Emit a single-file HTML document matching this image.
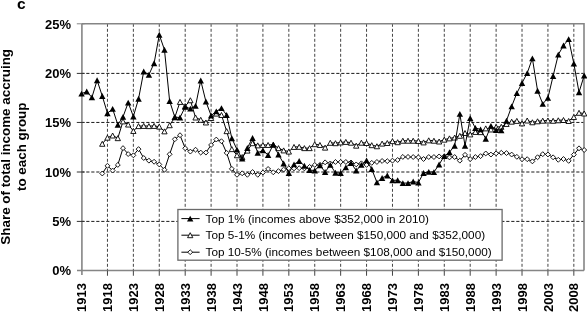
<!DOCTYPE html><html><head><meta charset="utf-8"><style>html,body{margin:0;padding:0;background:#fff;}body{width:587px;height:313px;overflow:hidden;}svg{display:block;font-family:"Liberation Sans",sans-serif;will-change:transform;}</style></head><body>
<svg width="587" height="313" viewBox="0 0 587 313">
<rect x="0" y="0" width="587" height="313" fill="#fff"/>
<text x="17.1" y="9.0" font-size="15.5" font-weight="bold" fill="#000">c</text>
<line x1="81.25" y1="221.4" x2="584" y2="221.4" stroke="#1a1a1a" stroke-width="1" stroke-dasharray="3.2,1.8"/>
<line x1="81.25" y1="172" x2="584" y2="172" stroke="#1a1a1a" stroke-width="1" stroke-dasharray="3.2,1.8"/>
<line x1="81.25" y1="122.45" x2="584" y2="122.45" stroke="#1a1a1a" stroke-width="1" stroke-dasharray="3.2,1.8"/>
<line x1="81.25" y1="73.4" x2="584" y2="73.4" stroke="#1a1a1a" stroke-width="1" stroke-dasharray="3.2,1.8"/>
<line x1="107.46" y1="23.8" x2="107.46" y2="270.55" stroke="#444" stroke-width="1" stroke-dasharray="3,2"/>
<line x1="133.37" y1="23.8" x2="133.37" y2="270.55" stroke="#444" stroke-width="1" stroke-dasharray="3,2"/>
<line x1="159.28" y1="23.8" x2="159.28" y2="270.55" stroke="#444" stroke-width="1" stroke-dasharray="3,2"/>
<line x1="185.19" y1="23.8" x2="185.19" y2="270.55" stroke="#444" stroke-width="1" stroke-dasharray="3,2"/>
<line x1="211.1" y1="23.8" x2="211.1" y2="270.55" stroke="#444" stroke-width="1" stroke-dasharray="3,2"/>
<line x1="237.01" y1="23.8" x2="237.01" y2="270.55" stroke="#444" stroke-width="1" stroke-dasharray="3,2"/>
<line x1="262.92" y1="23.8" x2="262.92" y2="270.55" stroke="#444" stroke-width="1" stroke-dasharray="3,2"/>
<line x1="288.83" y1="23.8" x2="288.83" y2="270.55" stroke="#444" stroke-width="1" stroke-dasharray="3,2"/>
<line x1="314.74" y1="23.8" x2="314.74" y2="270.55" stroke="#444" stroke-width="1" stroke-dasharray="3,2"/>
<line x1="340.65" y1="23.8" x2="340.65" y2="270.55" stroke="#444" stroke-width="1" stroke-dasharray="3,2"/>
<line x1="366.56" y1="23.8" x2="366.56" y2="270.55" stroke="#444" stroke-width="1" stroke-dasharray="3,2"/>
<line x1="392.47" y1="23.8" x2="392.47" y2="270.55" stroke="#444" stroke-width="1" stroke-dasharray="3,2"/>
<line x1="418.38" y1="23.8" x2="418.38" y2="270.55" stroke="#444" stroke-width="1" stroke-dasharray="3,2"/>
<line x1="444.29" y1="23.8" x2="444.29" y2="270.55" stroke="#444" stroke-width="1" stroke-dasharray="3,2"/>
<line x1="470.2" y1="23.8" x2="470.2" y2="270.55" stroke="#444" stroke-width="1" stroke-dasharray="3,2"/>
<line x1="496.11" y1="23.8" x2="496.11" y2="270.55" stroke="#444" stroke-width="1" stroke-dasharray="3,2"/>
<line x1="522.02" y1="23.8" x2="522.02" y2="270.55" stroke="#444" stroke-width="1" stroke-dasharray="3,2"/>
<line x1="547.93" y1="23.8" x2="547.93" y2="270.55" stroke="#444" stroke-width="1" stroke-dasharray="3,2"/>
<line x1="573.84" y1="23.8" x2="573.84" y2="270.55" stroke="#444" stroke-width="1" stroke-dasharray="3,2"/>
<polyline points="81.9,23.8 584,23.8 584,270.55" fill="none" stroke="#858585" stroke-width="1.6"/>
<line x1="81.9" y1="23.8" x2="81.9" y2="275.05" stroke="#858585" stroke-width="1.6"/>
<line x1="77" y1="270.55" x2="584" y2="270.55" stroke="#858585" stroke-width="1.6"/>
<line x1="76.8" y1="221.4" x2="84.5" y2="221.4" stroke="#333" stroke-width="1"/>
<line x1="76.8" y1="172" x2="84.5" y2="172" stroke="#333" stroke-width="1"/>
<line x1="76.8" y1="122.45" x2="84.5" y2="122.45" stroke="#333" stroke-width="1"/>
<line x1="76.8" y1="73.4" x2="84.5" y2="73.4" stroke="#333" stroke-width="1"/>
<line x1="76.8" y1="23.8" x2="84.5" y2="23.8" stroke="#858585" stroke-width="1"/>
<line x1="107.46" y1="270.55" x2="107.46" y2="275.75" stroke="#444" stroke-width="1"/>
<line x1="133.37" y1="270.55" x2="133.37" y2="275.75" stroke="#444" stroke-width="1"/>
<line x1="159.28" y1="270.55" x2="159.28" y2="275.75" stroke="#444" stroke-width="1"/>
<line x1="185.19" y1="270.55" x2="185.19" y2="275.75" stroke="#444" stroke-width="1"/>
<line x1="211.1" y1="270.55" x2="211.1" y2="275.75" stroke="#444" stroke-width="1"/>
<line x1="237.01" y1="270.55" x2="237.01" y2="275.75" stroke="#444" stroke-width="1"/>
<line x1="262.92" y1="270.55" x2="262.92" y2="275.75" stroke="#444" stroke-width="1"/>
<line x1="288.83" y1="270.55" x2="288.83" y2="275.75" stroke="#444" stroke-width="1"/>
<line x1="314.74" y1="270.55" x2="314.74" y2="275.75" stroke="#444" stroke-width="1"/>
<line x1="340.65" y1="270.55" x2="340.65" y2="275.75" stroke="#444" stroke-width="1"/>
<line x1="366.56" y1="270.55" x2="366.56" y2="275.75" stroke="#444" stroke-width="1"/>
<line x1="392.47" y1="270.55" x2="392.47" y2="275.75" stroke="#444" stroke-width="1"/>
<line x1="418.38" y1="270.55" x2="418.38" y2="275.75" stroke="#444" stroke-width="1"/>
<line x1="444.29" y1="270.55" x2="444.29" y2="275.75" stroke="#444" stroke-width="1"/>
<line x1="470.2" y1="270.55" x2="470.2" y2="275.75" stroke="#444" stroke-width="1"/>
<line x1="496.11" y1="270.55" x2="496.11" y2="275.75" stroke="#444" stroke-width="1"/>
<line x1="522.02" y1="270.55" x2="522.02" y2="275.75" stroke="#444" stroke-width="1"/>
<line x1="547.93" y1="270.55" x2="547.93" y2="275.75" stroke="#444" stroke-width="1"/>
<line x1="573.84" y1="270.55" x2="573.84" y2="275.75" stroke="#444" stroke-width="1"/>
<text x="71" y="275.35" font-size="13" font-weight="bold" text-anchor="end" fill="#000">0%</text>
<text x="71" y="225.99" font-size="13" font-weight="bold" text-anchor="end" fill="#000">5%</text>
<text x="71" y="176.63" font-size="13" font-weight="bold" text-anchor="end" fill="#000">10%</text>
<text x="71" y="127.27" font-size="13" font-weight="bold" text-anchor="end" fill="#000">15%</text>
<text x="71" y="77.91" font-size="13" font-weight="bold" text-anchor="end" fill="#000">20%</text>
<text x="71" y="28.55" font-size="13" font-weight="bold" text-anchor="end" fill="#000">25%</text>
<text transform="translate(86.15,283) rotate(-90)" font-size="13" font-weight="bold" text-anchor="end" fill="#000">1913</text>
<text transform="translate(112.06,283) rotate(-90)" font-size="13" font-weight="bold" text-anchor="end" fill="#000">1918</text>
<text transform="translate(137.97,283) rotate(-90)" font-size="13" font-weight="bold" text-anchor="end" fill="#000">1923</text>
<text transform="translate(163.88,283) rotate(-90)" font-size="13" font-weight="bold" text-anchor="end" fill="#000">1928</text>
<text transform="translate(189.79,283) rotate(-90)" font-size="13" font-weight="bold" text-anchor="end" fill="#000">1933</text>
<text transform="translate(215.7,283) rotate(-90)" font-size="13" font-weight="bold" text-anchor="end" fill="#000">1938</text>
<text transform="translate(241.61,283) rotate(-90)" font-size="13" font-weight="bold" text-anchor="end" fill="#000">1943</text>
<text transform="translate(267.52,283) rotate(-90)" font-size="13" font-weight="bold" text-anchor="end" fill="#000">1948</text>
<text transform="translate(293.43,283) rotate(-90)" font-size="13" font-weight="bold" text-anchor="end" fill="#000">1953</text>
<text transform="translate(319.34,283) rotate(-90)" font-size="13" font-weight="bold" text-anchor="end" fill="#000">1958</text>
<text transform="translate(345.25,283) rotate(-90)" font-size="13" font-weight="bold" text-anchor="end" fill="#000">1963</text>
<text transform="translate(371.16,283) rotate(-90)" font-size="13" font-weight="bold" text-anchor="end" fill="#000">1968</text>
<text transform="translate(397.07,283) rotate(-90)" font-size="13" font-weight="bold" text-anchor="end" fill="#000">1973</text>
<text transform="translate(422.98,283) rotate(-90)" font-size="13" font-weight="bold" text-anchor="end" fill="#000">1978</text>
<text transform="translate(448.89,283) rotate(-90)" font-size="13" font-weight="bold" text-anchor="end" fill="#000">1983</text>
<text transform="translate(474.8,283) rotate(-90)" font-size="13" font-weight="bold" text-anchor="end" fill="#000">1988</text>
<text transform="translate(500.71,283) rotate(-90)" font-size="13" font-weight="bold" text-anchor="end" fill="#000">1993</text>
<text transform="translate(526.62,283) rotate(-90)" font-size="13" font-weight="bold" text-anchor="end" fill="#000">1998</text>
<text transform="translate(552.53,283) rotate(-90)" font-size="13" font-weight="bold" text-anchor="end" fill="#000">2003</text>
<text transform="translate(578.44,283) rotate(-90)" font-size="13" font-weight="bold" text-anchor="end" fill="#000">2008</text>
<text transform="translate(10.3,146.8) rotate(-90)" font-size="13.4" font-weight="bold" text-anchor="middle" fill="#000">Share of total income accruing</text>
<text transform="translate(26.0,146.8) rotate(-90)" font-size="13.4" font-weight="bold" text-anchor="middle" fill="#000">to each group</text>
<polyline points="102.28,173.51 107.46,165.81 112.64,170.55 117.82,164.92 123.01,148.14 128.19,154.06 133.37,155.34 138.55,149.12 143.73,158.01 148.92,160.67 154.1,161.76 159.28,164.43 164.46,169.76 169.64,154.26 174.83,139.25 180.01,135.2 185.19,148.24 190.37,151.59 195.55,149.72 200.74,152.58 205.92,152.58 211.1,144.98 216.28,139.55 221.46,141.23 226.65,152.88 231.83,168.87 237.01,174.79 242.19,173.31 247.37,174.79 252.56,172.03 257.74,174.79 262.92,172.52 268.1,168.97 273.28,172.32 278.47,171.14 283.65,169.56 288.83,168.28 294.01,168.37 299.19,168.18 304.38,168.37 309.56,166.89 314.74,164.92 319.92,164.92 325.1,162.35 330.29,163.44 335.47,161.96 340.65,161.96 345.83,161.96 351.01,162.45 356.2,164.43 361.38,163.34 366.56,164.92 371.74,162.85 376.92,161.96 382.11,160.97 387.29,161.17 392.47,160.67 397.65,159.98 402.83,156.92 408.02,156.92 413.2,157.02 418.38,157.32 423.56,159 428.74,157.02 433.93,157.02 439.11,156.43 444.29,156.43 449.47,157.42 454.65,157.02 459.84,160.67 465.02,154.85 470.2,159.1 475.38,157.02 480.56,156.13 485.75,153.47 490.93,154.55 496.11,153.37 501.29,152.78 506.47,153.07 511.66,154.55 516.84,156.82 522.02,159.19 527.2,159.19 532.38,161.37 537.57,157.22 542.75,154.16 547.93,154.46 553.11,157.32 558.29,159.79 563.48,159 568.66,160.87 573.84,154.65 579.02,148.33 584.2,150.01" fill="none" stroke="#000" stroke-width="1" stroke-linejoin="round"/>
<path d="M102.28,171.06L104.73,173.51L102.28,175.96L99.83,173.51Z" fill="#fff" stroke="#000" stroke-width="0.9"/>
<path d="M107.46,163.36L109.91,165.81L107.46,168.26L105.01,165.81Z" fill="#fff" stroke="#000" stroke-width="0.9"/>
<path d="M112.64,168.1L115.09,170.55L112.64,173L110.19,170.55Z" fill="#fff" stroke="#000" stroke-width="0.9"/>
<path d="M117.82,162.47L120.27,164.92L117.82,167.37L115.37,164.92Z" fill="#fff" stroke="#000" stroke-width="0.9"/>
<path d="M123.01,145.69L125.46,148.14L123.01,150.59L120.56,148.14Z" fill="#fff" stroke="#000" stroke-width="0.9"/>
<path d="M128.19,151.61L130.64,154.06L128.19,156.51L125.74,154.06Z" fill="#fff" stroke="#000" stroke-width="0.9"/>
<path d="M133.37,152.89L135.82,155.34L133.37,157.79L130.92,155.34Z" fill="#fff" stroke="#000" stroke-width="0.9"/>
<path d="M138.55,146.67L141,149.12L138.55,151.57L136.1,149.12Z" fill="#fff" stroke="#000" stroke-width="0.9"/>
<path d="M143.73,155.56L146.18,158.01L143.73,160.46L141.28,158.01Z" fill="#fff" stroke="#000" stroke-width="0.9"/>
<path d="M148.92,158.22L151.37,160.67L148.92,163.12L146.47,160.67Z" fill="#fff" stroke="#000" stroke-width="0.9"/>
<path d="M154.1,159.31L156.55,161.76L154.1,164.21L151.65,161.76Z" fill="#fff" stroke="#000" stroke-width="0.9"/>
<path d="M159.28,161.98L161.73,164.43L159.28,166.88L156.83,164.43Z" fill="#fff" stroke="#000" stroke-width="0.9"/>
<path d="M164.46,167.31L166.91,169.76L164.46,172.21L162.01,169.76Z" fill="#fff" stroke="#000" stroke-width="0.9"/>
<path d="M169.64,151.81L172.09,154.26L169.64,156.71L167.19,154.26Z" fill="#fff" stroke="#000" stroke-width="0.9"/>
<path d="M174.83,136.8L177.28,139.25L174.83,141.7L172.38,139.25Z" fill="#fff" stroke="#000" stroke-width="0.9"/>
<path d="M180.01,132.75L182.46,135.2L180.01,137.65L177.56,135.2Z" fill="#fff" stroke="#000" stroke-width="0.9"/>
<path d="M185.19,145.79L187.64,148.24L185.19,150.69L182.74,148.24Z" fill="#fff" stroke="#000" stroke-width="0.9"/>
<path d="M190.37,149.14L192.82,151.59L190.37,154.04L187.92,151.59Z" fill="#fff" stroke="#000" stroke-width="0.9"/>
<path d="M195.55,147.27L198,149.72L195.55,152.17L193.1,149.72Z" fill="#fff" stroke="#000" stroke-width="0.9"/>
<path d="M200.74,150.13L203.19,152.58L200.74,155.03L198.29,152.58Z" fill="#fff" stroke="#000" stroke-width="0.9"/>
<path d="M205.92,150.13L208.37,152.58L205.92,155.03L203.47,152.58Z" fill="#fff" stroke="#000" stroke-width="0.9"/>
<path d="M211.1,142.53L213.55,144.98L211.1,147.43L208.65,144.98Z" fill="#fff" stroke="#000" stroke-width="0.9"/>
<path d="M216.28,137.1L218.73,139.55L216.28,142L213.83,139.55Z" fill="#fff" stroke="#000" stroke-width="0.9"/>
<path d="M221.46,138.78L223.91,141.23L221.46,143.68L219.01,141.23Z" fill="#fff" stroke="#000" stroke-width="0.9"/>
<path d="M226.65,150.43L229.1,152.88L226.65,155.33L224.2,152.88Z" fill="#fff" stroke="#000" stroke-width="0.9"/>
<path d="M231.83,166.42L234.28,168.87L231.83,171.32L229.38,168.87Z" fill="#fff" stroke="#000" stroke-width="0.9"/>
<path d="M237.01,172.34L239.46,174.79L237.01,177.24L234.56,174.79Z" fill="#fff" stroke="#000" stroke-width="0.9"/>
<path d="M242.19,170.86L244.64,173.31L242.19,175.76L239.74,173.31Z" fill="#fff" stroke="#000" stroke-width="0.9"/>
<path d="M247.37,172.34L249.82,174.79L247.37,177.24L244.92,174.79Z" fill="#fff" stroke="#000" stroke-width="0.9"/>
<path d="M252.56,169.58L255.01,172.03L252.56,174.48L250.11,172.03Z" fill="#fff" stroke="#000" stroke-width="0.9"/>
<path d="M257.74,172.34L260.19,174.79L257.74,177.24L255.29,174.79Z" fill="#fff" stroke="#000" stroke-width="0.9"/>
<path d="M262.92,170.07L265.37,172.52L262.92,174.97L260.47,172.52Z" fill="#fff" stroke="#000" stroke-width="0.9"/>
<path d="M268.1,166.52L270.55,168.97L268.1,171.42L265.65,168.97Z" fill="#fff" stroke="#000" stroke-width="0.9"/>
<path d="M273.28,169.87L275.73,172.32L273.28,174.77L270.83,172.32Z" fill="#fff" stroke="#000" stroke-width="0.9"/>
<path d="M278.47,168.69L280.92,171.14L278.47,173.59L276.02,171.14Z" fill="#fff" stroke="#000" stroke-width="0.9"/>
<path d="M283.65,167.11L286.1,169.56L283.65,172.01L281.2,169.56Z" fill="#fff" stroke="#000" stroke-width="0.9"/>
<path d="M288.83,165.83L291.28,168.28L288.83,170.73L286.38,168.28Z" fill="#fff" stroke="#000" stroke-width="0.9"/>
<path d="M294.01,165.92L296.46,168.37L294.01,170.82L291.56,168.37Z" fill="#fff" stroke="#000" stroke-width="0.9"/>
<path d="M299.19,165.73L301.64,168.18L299.19,170.63L296.74,168.18Z" fill="#fff" stroke="#000" stroke-width="0.9"/>
<path d="M304.38,165.92L306.83,168.37L304.38,170.82L301.93,168.37Z" fill="#fff" stroke="#000" stroke-width="0.9"/>
<path d="M309.56,164.44L312.01,166.89L309.56,169.34L307.11,166.89Z" fill="#fff" stroke="#000" stroke-width="0.9"/>
<path d="M314.74,162.47L317.19,164.92L314.74,167.37L312.29,164.92Z" fill="#fff" stroke="#000" stroke-width="0.9"/>
<path d="M319.92,162.47L322.37,164.92L319.92,167.37L317.47,164.92Z" fill="#fff" stroke="#000" stroke-width="0.9"/>
<path d="M325.1,159.9L327.55,162.35L325.1,164.8L322.65,162.35Z" fill="#fff" stroke="#000" stroke-width="0.9"/>
<path d="M330.29,160.99L332.74,163.44L330.29,165.89L327.84,163.44Z" fill="#fff" stroke="#000" stroke-width="0.9"/>
<path d="M335.47,159.51L337.92,161.96L335.47,164.41L333.02,161.96Z" fill="#fff" stroke="#000" stroke-width="0.9"/>
<path d="M340.65,159.51L343.1,161.96L340.65,164.41L338.2,161.96Z" fill="#fff" stroke="#000" stroke-width="0.9"/>
<path d="M345.83,159.51L348.28,161.96L345.83,164.41L343.38,161.96Z" fill="#fff" stroke="#000" stroke-width="0.9"/>
<path d="M351.01,160L353.46,162.45L351.01,164.9L348.56,162.45Z" fill="#fff" stroke="#000" stroke-width="0.9"/>
<path d="M356.2,161.98L358.65,164.43L356.2,166.88L353.75,164.43Z" fill="#fff" stroke="#000" stroke-width="0.9"/>
<path d="M361.38,160.89L363.83,163.34L361.38,165.79L358.93,163.34Z" fill="#fff" stroke="#000" stroke-width="0.9"/>
<path d="M366.56,162.47L369.01,164.92L366.56,167.37L364.11,164.92Z" fill="#fff" stroke="#000" stroke-width="0.9"/>
<path d="M371.74,160.4L374.19,162.85L371.74,165.3L369.29,162.85Z" fill="#fff" stroke="#000" stroke-width="0.9"/>
<path d="M376.92,159.51L379.37,161.96L376.92,164.41L374.47,161.96Z" fill="#fff" stroke="#000" stroke-width="0.9"/>
<path d="M382.11,158.52L384.56,160.97L382.11,163.42L379.66,160.97Z" fill="#fff" stroke="#000" stroke-width="0.9"/>
<path d="M387.29,158.72L389.74,161.17L387.29,163.62L384.84,161.17Z" fill="#fff" stroke="#000" stroke-width="0.9"/>
<path d="M392.47,158.22L394.92,160.67L392.47,163.12L390.02,160.67Z" fill="#fff" stroke="#000" stroke-width="0.9"/>
<path d="M397.65,157.53L400.1,159.98L397.65,162.43L395.2,159.98Z" fill="#fff" stroke="#000" stroke-width="0.9"/>
<path d="M402.83,154.47L405.28,156.92L402.83,159.37L400.38,156.92Z" fill="#fff" stroke="#000" stroke-width="0.9"/>
<path d="M408.02,154.47L410.47,156.92L408.02,159.37L405.57,156.92Z" fill="#fff" stroke="#000" stroke-width="0.9"/>
<path d="M413.2,154.57L415.65,157.02L413.2,159.47L410.75,157.02Z" fill="#fff" stroke="#000" stroke-width="0.9"/>
<path d="M418.38,154.87L420.83,157.32L418.38,159.77L415.93,157.32Z" fill="#fff" stroke="#000" stroke-width="0.9"/>
<path d="M423.56,156.55L426.01,159L423.56,161.45L421.11,159Z" fill="#fff" stroke="#000" stroke-width="0.9"/>
<path d="M428.74,154.57L431.19,157.02L428.74,159.47L426.29,157.02Z" fill="#fff" stroke="#000" stroke-width="0.9"/>
<path d="M433.93,154.57L436.38,157.02L433.93,159.47L431.48,157.02Z" fill="#fff" stroke="#000" stroke-width="0.9"/>
<path d="M439.11,153.98L441.56,156.43L439.11,158.88L436.66,156.43Z" fill="#fff" stroke="#000" stroke-width="0.9"/>
<path d="M444.29,153.98L446.74,156.43L444.29,158.88L441.84,156.43Z" fill="#fff" stroke="#000" stroke-width="0.9"/>
<path d="M449.47,154.97L451.92,157.42L449.47,159.87L447.02,157.42Z" fill="#fff" stroke="#000" stroke-width="0.9"/>
<path d="M454.65,154.57L457.1,157.02L454.65,159.47L452.2,157.02Z" fill="#fff" stroke="#000" stroke-width="0.9"/>
<path d="M459.84,158.22L462.29,160.67L459.84,163.12L457.39,160.67Z" fill="#fff" stroke="#000" stroke-width="0.9"/>
<path d="M465.02,152.4L467.47,154.85L465.02,157.3L462.57,154.85Z" fill="#fff" stroke="#000" stroke-width="0.9"/>
<path d="M470.2,156.65L472.65,159.1L470.2,161.55L467.75,159.1Z" fill="#fff" stroke="#000" stroke-width="0.9"/>
<path d="M475.38,154.57L477.83,157.02L475.38,159.47L472.93,157.02Z" fill="#fff" stroke="#000" stroke-width="0.9"/>
<path d="M480.56,153.68L483.01,156.13L480.56,158.58L478.11,156.13Z" fill="#fff" stroke="#000" stroke-width="0.9"/>
<path d="M485.75,151.02L488.2,153.47L485.75,155.92L483.3,153.47Z" fill="#fff" stroke="#000" stroke-width="0.9"/>
<path d="M490.93,152.1L493.38,154.55L490.93,157L488.48,154.55Z" fill="#fff" stroke="#000" stroke-width="0.9"/>
<path d="M496.11,150.92L498.56,153.37L496.11,155.82L493.66,153.37Z" fill="#fff" stroke="#000" stroke-width="0.9"/>
<path d="M501.29,150.33L503.74,152.78L501.29,155.23L498.84,152.78Z" fill="#fff" stroke="#000" stroke-width="0.9"/>
<path d="M506.47,150.62L508.92,153.07L506.47,155.52L504.02,153.07Z" fill="#fff" stroke="#000" stroke-width="0.9"/>
<path d="M511.66,152.1L514.11,154.55L511.66,157L509.21,154.55Z" fill="#fff" stroke="#000" stroke-width="0.9"/>
<path d="M516.84,154.37L519.29,156.82L516.84,159.27L514.39,156.82Z" fill="#fff" stroke="#000" stroke-width="0.9"/>
<path d="M522.02,156.74L524.47,159.19L522.02,161.64L519.57,159.19Z" fill="#fff" stroke="#000" stroke-width="0.9"/>
<path d="M527.2,156.74L529.65,159.19L527.2,161.64L524.75,159.19Z" fill="#fff" stroke="#000" stroke-width="0.9"/>
<path d="M532.38,158.92L534.83,161.37L532.38,163.82L529.93,161.37Z" fill="#fff" stroke="#000" stroke-width="0.9"/>
<path d="M537.57,154.77L540.02,157.22L537.57,159.67L535.12,157.22Z" fill="#fff" stroke="#000" stroke-width="0.9"/>
<path d="M542.75,151.71L545.2,154.16L542.75,156.61L540.3,154.16Z" fill="#fff" stroke="#000" stroke-width="0.9"/>
<path d="M547.93,152.01L550.38,154.46L547.93,156.91L545.48,154.46Z" fill="#fff" stroke="#000" stroke-width="0.9"/>
<path d="M553.11,154.87L555.56,157.32L553.11,159.77L550.66,157.32Z" fill="#fff" stroke="#000" stroke-width="0.9"/>
<path d="M558.29,157.34L560.74,159.79L558.29,162.24L555.84,159.79Z" fill="#fff" stroke="#000" stroke-width="0.9"/>
<path d="M563.48,156.55L565.93,159L563.48,161.45L561.03,159Z" fill="#fff" stroke="#000" stroke-width="0.9"/>
<path d="M568.66,158.42L571.11,160.87L568.66,163.32L566.21,160.87Z" fill="#fff" stroke="#000" stroke-width="0.9"/>
<path d="M573.84,152.2L576.29,154.65L573.84,157.1L571.39,154.65Z" fill="#fff" stroke="#000" stroke-width="0.9"/>
<path d="M579.02,145.88L581.47,148.33L579.02,150.78L576.57,148.33Z" fill="#fff" stroke="#000" stroke-width="0.9"/>
<path d="M584.2,147.56L586.65,150.01L584.2,152.46L581.75,150.01Z" fill="#fff" stroke="#000" stroke-width="0.9"/>
<polyline points="102.28,143.79 107.46,137.67 112.64,135.5 117.82,138.17 123.01,121.38 128.19,124.54 133.37,130.96 138.55,126.12 143.73,125.93 148.92,126.12 154.1,125.93 159.28,126.62 164.46,131.35 169.64,125.23 174.83,117.34 180.01,101.94 185.19,106.18 190.37,100.26 195.55,117.53 200.74,119.8 205.92,122.47 211.1,118.03 216.28,113.59 221.46,114.97 226.65,131.16 231.83,149.12 237.01,155.25 242.19,157.02 247.37,150.61 252.56,143.2 257.74,145.37 262.92,144.98 268.1,144.98 273.28,144.68 278.47,148.14 283.65,150.41 288.83,151.59 294.01,146.95 299.19,146.85 304.38,148.14 309.56,148.14 314.74,144.19 319.92,144.98 325.1,147.64 330.29,142.81 335.47,143.2 340.65,142.41 345.83,141.92 351.01,142.71 356.2,145.67 361.38,142.71 366.56,143 371.74,145.18 376.92,146.26 382.11,143.6 387.29,143 392.47,141.13 397.65,142.21 402.83,140.73 408.02,140.73 413.2,140.73 418.38,141.03 423.56,142.41 428.74,140.34 433.93,140.73 439.11,141.52 444.29,139.65 449.47,138.36 454.65,137.57 459.84,135.8 465.02,133.03 470.2,134.42 475.38,131.95 480.56,132.14 485.75,128.39 490.93,129.48 496.11,126.91 501.29,126.81 506.47,123.95 511.66,121.68 516.84,120.89 522.02,123.36 527.2,120.5 532.38,122.27 537.57,121.29 542.75,120.69 547.93,120.5 553.11,120.79 558.29,120.3 563.48,120 568.66,120.99 573.84,117.04 579.02,112.8 584.2,113.49" fill="none" stroke="#000" stroke-width="1" stroke-linejoin="round"/>
<path d="M102.28,141.29L104.93,146.29L99.63,146.29Z" fill="#fff" stroke="#000" stroke-width="0.9"/>
<path d="M107.46,135.17L110.11,140.17L104.81,140.17Z" fill="#fff" stroke="#000" stroke-width="0.9"/>
<path d="M112.64,133L115.29,138L109.99,138Z" fill="#fff" stroke="#000" stroke-width="0.9"/>
<path d="M117.82,135.67L120.47,140.67L115.17,140.67Z" fill="#fff" stroke="#000" stroke-width="0.9"/>
<path d="M123.01,118.88L125.66,123.88L120.36,123.88Z" fill="#fff" stroke="#000" stroke-width="0.9"/>
<path d="M128.19,122.04L130.84,127.04L125.54,127.04Z" fill="#fff" stroke="#000" stroke-width="0.9"/>
<path d="M133.37,128.46L136.02,133.46L130.72,133.46Z" fill="#fff" stroke="#000" stroke-width="0.9"/>
<path d="M138.55,123.62L141.2,128.62L135.9,128.62Z" fill="#fff" stroke="#000" stroke-width="0.9"/>
<path d="M143.73,123.43L146.38,128.43L141.08,128.43Z" fill="#fff" stroke="#000" stroke-width="0.9"/>
<path d="M148.92,123.62L151.57,128.62L146.27,128.62Z" fill="#fff" stroke="#000" stroke-width="0.9"/>
<path d="M154.1,123.43L156.75,128.43L151.45,128.43Z" fill="#fff" stroke="#000" stroke-width="0.9"/>
<path d="M159.28,124.12L161.93,129.12L156.63,129.12Z" fill="#fff" stroke="#000" stroke-width="0.9"/>
<path d="M164.46,128.85L167.11,133.85L161.81,133.85Z" fill="#fff" stroke="#000" stroke-width="0.9"/>
<path d="M169.64,122.73L172.29,127.73L166.99,127.73Z" fill="#fff" stroke="#000" stroke-width="0.9"/>
<path d="M174.83,114.84L177.48,119.84L172.18,119.84Z" fill="#fff" stroke="#000" stroke-width="0.9"/>
<path d="M180.01,99.44L182.66,104.44L177.36,104.44Z" fill="#fff" stroke="#000" stroke-width="0.9"/>
<path d="M185.19,103.68L187.84,108.68L182.54,108.68Z" fill="#fff" stroke="#000" stroke-width="0.9"/>
<path d="M190.37,97.76L193.02,102.76L187.72,102.76Z" fill="#fff" stroke="#000" stroke-width="0.9"/>
<path d="M195.55,115.03L198.2,120.03L192.9,120.03Z" fill="#fff" stroke="#000" stroke-width="0.9"/>
<path d="M200.74,117.3L203.39,122.3L198.09,122.3Z" fill="#fff" stroke="#000" stroke-width="0.9"/>
<path d="M205.92,119.97L208.57,124.97L203.27,124.97Z" fill="#fff" stroke="#000" stroke-width="0.9"/>
<path d="M211.1,115.53L213.75,120.53L208.45,120.53Z" fill="#fff" stroke="#000" stroke-width="0.9"/>
<path d="M216.28,111.09L218.93,116.09L213.63,116.09Z" fill="#fff" stroke="#000" stroke-width="0.9"/>
<path d="M221.46,112.47L224.11,117.47L218.81,117.47Z" fill="#fff" stroke="#000" stroke-width="0.9"/>
<path d="M226.65,128.66L229.3,133.66L224,133.66Z" fill="#fff" stroke="#000" stroke-width="0.9"/>
<path d="M231.83,146.62L234.48,151.62L229.18,151.62Z" fill="#fff" stroke="#000" stroke-width="0.9"/>
<path d="M237.01,152.75L239.66,157.75L234.36,157.75Z" fill="#fff" stroke="#000" stroke-width="0.9"/>
<path d="M242.19,154.52L244.84,159.52L239.54,159.52Z" fill="#fff" stroke="#000" stroke-width="0.9"/>
<path d="M247.37,148.11L250.02,153.11L244.72,153.11Z" fill="#fff" stroke="#000" stroke-width="0.9"/>
<path d="M252.56,140.7L255.21,145.7L249.91,145.7Z" fill="#fff" stroke="#000" stroke-width="0.9"/>
<path d="M257.74,142.87L260.39,147.87L255.09,147.87Z" fill="#fff" stroke="#000" stroke-width="0.9"/>
<path d="M262.92,142.48L265.57,147.48L260.27,147.48Z" fill="#fff" stroke="#000" stroke-width="0.9"/>
<path d="M268.1,142.48L270.75,147.48L265.45,147.48Z" fill="#fff" stroke="#000" stroke-width="0.9"/>
<path d="M273.28,142.18L275.93,147.18L270.63,147.18Z" fill="#fff" stroke="#000" stroke-width="0.9"/>
<path d="M278.47,145.64L281.12,150.64L275.82,150.64Z" fill="#fff" stroke="#000" stroke-width="0.9"/>
<path d="M283.65,147.91L286.3,152.91L281,152.91Z" fill="#fff" stroke="#000" stroke-width="0.9"/>
<path d="M288.83,149.09L291.48,154.09L286.18,154.09Z" fill="#fff" stroke="#000" stroke-width="0.9"/>
<path d="M294.01,144.45L296.66,149.45L291.36,149.45Z" fill="#fff" stroke="#000" stroke-width="0.9"/>
<path d="M299.19,144.35L301.84,149.35L296.54,149.35Z" fill="#fff" stroke="#000" stroke-width="0.9"/>
<path d="M304.38,145.64L307.03,150.64L301.73,150.64Z" fill="#fff" stroke="#000" stroke-width="0.9"/>
<path d="M309.56,145.64L312.21,150.64L306.91,150.64Z" fill="#fff" stroke="#000" stroke-width="0.9"/>
<path d="M314.74,141.69L317.39,146.69L312.09,146.69Z" fill="#fff" stroke="#000" stroke-width="0.9"/>
<path d="M319.92,142.48L322.57,147.48L317.27,147.48Z" fill="#fff" stroke="#000" stroke-width="0.9"/>
<path d="M325.1,145.14L327.75,150.14L322.45,150.14Z" fill="#fff" stroke="#000" stroke-width="0.9"/>
<path d="M330.29,140.31L332.94,145.31L327.64,145.31Z" fill="#fff" stroke="#000" stroke-width="0.9"/>
<path d="M335.47,140.7L338.12,145.7L332.82,145.7Z" fill="#fff" stroke="#000" stroke-width="0.9"/>
<path d="M340.65,139.91L343.3,144.91L338,144.91Z" fill="#fff" stroke="#000" stroke-width="0.9"/>
<path d="M345.83,139.42L348.48,144.42L343.18,144.42Z" fill="#fff" stroke="#000" stroke-width="0.9"/>
<path d="M351.01,140.21L353.66,145.21L348.36,145.21Z" fill="#fff" stroke="#000" stroke-width="0.9"/>
<path d="M356.2,143.17L358.85,148.17L353.55,148.17Z" fill="#fff" stroke="#000" stroke-width="0.9"/>
<path d="M361.38,140.21L364.03,145.21L358.73,145.21Z" fill="#fff" stroke="#000" stroke-width="0.9"/>
<path d="M366.56,140.5L369.21,145.5L363.91,145.5Z" fill="#fff" stroke="#000" stroke-width="0.9"/>
<path d="M371.74,142.68L374.39,147.68L369.09,147.68Z" fill="#fff" stroke="#000" stroke-width="0.9"/>
<path d="M376.92,143.76L379.57,148.76L374.27,148.76Z" fill="#fff" stroke="#000" stroke-width="0.9"/>
<path d="M382.11,141.1L384.76,146.1L379.46,146.1Z" fill="#fff" stroke="#000" stroke-width="0.9"/>
<path d="M387.29,140.5L389.94,145.5L384.64,145.5Z" fill="#fff" stroke="#000" stroke-width="0.9"/>
<path d="M392.47,138.63L395.12,143.63L389.82,143.63Z" fill="#fff" stroke="#000" stroke-width="0.9"/>
<path d="M397.65,139.71L400.3,144.71L395,144.71Z" fill="#fff" stroke="#000" stroke-width="0.9"/>
<path d="M402.83,138.23L405.48,143.23L400.18,143.23Z" fill="#fff" stroke="#000" stroke-width="0.9"/>
<path d="M408.02,138.23L410.67,143.23L405.37,143.23Z" fill="#fff" stroke="#000" stroke-width="0.9"/>
<path d="M413.2,138.23L415.85,143.23L410.55,143.23Z" fill="#fff" stroke="#000" stroke-width="0.9"/>
<path d="M418.38,138.53L421.03,143.53L415.73,143.53Z" fill="#fff" stroke="#000" stroke-width="0.9"/>
<path d="M423.56,139.91L426.21,144.91L420.91,144.91Z" fill="#fff" stroke="#000" stroke-width="0.9"/>
<path d="M428.74,137.84L431.39,142.84L426.09,142.84Z" fill="#fff" stroke="#000" stroke-width="0.9"/>
<path d="M433.93,138.23L436.58,143.23L431.28,143.23Z" fill="#fff" stroke="#000" stroke-width="0.9"/>
<path d="M439.11,139.02L441.76,144.02L436.46,144.02Z" fill="#fff" stroke="#000" stroke-width="0.9"/>
<path d="M444.29,137.15L446.94,142.15L441.64,142.15Z" fill="#fff" stroke="#000" stroke-width="0.9"/>
<path d="M449.47,135.86L452.12,140.86L446.82,140.86Z" fill="#fff" stroke="#000" stroke-width="0.9"/>
<path d="M454.65,135.07L457.3,140.07L452,140.07Z" fill="#fff" stroke="#000" stroke-width="0.9"/>
<path d="M459.84,133.3L462.49,138.3L457.19,138.3Z" fill="#fff" stroke="#000" stroke-width="0.9"/>
<path d="M465.02,130.53L467.67,135.53L462.37,135.53Z" fill="#fff" stroke="#000" stroke-width="0.9"/>
<path d="M470.2,131.92L472.85,136.92L467.55,136.92Z" fill="#fff" stroke="#000" stroke-width="0.9"/>
<path d="M475.38,129.45L478.03,134.45L472.73,134.45Z" fill="#fff" stroke="#000" stroke-width="0.9"/>
<path d="M480.56,129.64L483.21,134.64L477.91,134.64Z" fill="#fff" stroke="#000" stroke-width="0.9"/>
<path d="M485.75,125.89L488.4,130.89L483.1,130.89Z" fill="#fff" stroke="#000" stroke-width="0.9"/>
<path d="M490.93,126.98L493.58,131.98L488.28,131.98Z" fill="#fff" stroke="#000" stroke-width="0.9"/>
<path d="M496.11,124.41L498.76,129.41L493.46,129.41Z" fill="#fff" stroke="#000" stroke-width="0.9"/>
<path d="M501.29,124.31L503.94,129.31L498.64,129.31Z" fill="#fff" stroke="#000" stroke-width="0.9"/>
<path d="M506.47,121.45L509.12,126.45L503.82,126.45Z" fill="#fff" stroke="#000" stroke-width="0.9"/>
<path d="M511.66,119.18L514.31,124.18L509.01,124.18Z" fill="#fff" stroke="#000" stroke-width="0.9"/>
<path d="M516.84,118.39L519.49,123.39L514.19,123.39Z" fill="#fff" stroke="#000" stroke-width="0.9"/>
<path d="M522.02,120.86L524.67,125.86L519.37,125.86Z" fill="#fff" stroke="#000" stroke-width="0.9"/>
<path d="M527.2,118L529.85,123L524.55,123Z" fill="#fff" stroke="#000" stroke-width="0.9"/>
<path d="M532.38,119.77L535.03,124.77L529.73,124.77Z" fill="#fff" stroke="#000" stroke-width="0.9"/>
<path d="M537.57,118.79L540.22,123.79L534.92,123.79Z" fill="#fff" stroke="#000" stroke-width="0.9"/>
<path d="M542.75,118.19L545.4,123.19L540.1,123.19Z" fill="#fff" stroke="#000" stroke-width="0.9"/>
<path d="M547.93,118L550.58,123L545.28,123Z" fill="#fff" stroke="#000" stroke-width="0.9"/>
<path d="M553.11,118.29L555.76,123.29L550.46,123.29Z" fill="#fff" stroke="#000" stroke-width="0.9"/>
<path d="M558.29,117.8L560.94,122.8L555.64,122.8Z" fill="#fff" stroke="#000" stroke-width="0.9"/>
<path d="M563.48,117.5L566.13,122.5L560.83,122.5Z" fill="#fff" stroke="#000" stroke-width="0.9"/>
<path d="M568.66,118.49L571.31,123.49L566.01,123.49Z" fill="#fff" stroke="#000" stroke-width="0.9"/>
<path d="M573.84,114.54L576.49,119.54L571.19,119.54Z" fill="#fff" stroke="#000" stroke-width="0.9"/>
<path d="M579.02,110.3L581.67,115.3L576.37,115.3Z" fill="#fff" stroke="#000" stroke-width="0.9"/>
<path d="M584.2,110.99L586.85,115.99L581.55,115.99Z" fill="#fff" stroke="#000" stroke-width="0.9"/>
<polyline points="81.55,93.64 86.73,91.57 91.91,97.4 97.1,80.32 102.28,96.01 107.46,113.19 112.64,108.85 117.82,124.74 123.01,116.84 128.19,102.63 133.37,116.45 138.55,98.78 143.73,71.53 148.92,74.69 154.1,63.24 159.28,34.81 164.46,49.71 169.64,101.05 174.83,117.14 180.01,117.53 185.19,106.87 190.37,108.65 195.55,105.89 200.74,80.51 205.92,101.54 211.1,115.56 216.28,111.41 221.46,108.16 226.65,115.07 231.83,138.27 237.01,149.62 242.19,158.5 247.37,147.94 252.56,137.97 257.74,152.78 262.92,150.31 268.1,155.05 273.28,144.58 278.47,154.55 283.65,163.44 288.83,173.01 294.01,164.33 299.19,161.07 304.38,165.81 309.56,170.05 314.74,170.55 319.92,165.31 325.1,172.03 330.29,164.92 335.47,172.82 340.65,173.01 345.83,167.39 351.01,162.95 356.2,170.55 361.38,164.92 366.56,160.38 371.74,169.07 376.92,182.39 382.11,177.95 387.29,175.48 392.47,180.32 397.65,180.22 402.83,183.08 408.02,183.08 413.2,181.5 418.38,182.59 423.56,173.01 428.74,171.83 433.93,172.13 439.11,164.43 444.29,156.13 449.47,152.18 454.65,145.77 459.84,113.88 465.02,145.77 470.2,118.13 475.38,128 480.56,129.38 485.75,138.76 490.93,125.83 496.11,129.97 501.29,130.37 506.47,120.69 511.66,106.38 516.84,93.15 522.02,82.98 527.2,73.11 532.38,58.4 537.57,90.68 542.75,103.91 547.93,97.89 553.11,75.97 558.29,54.65 563.48,45.57 568.66,39.15 573.84,63.53 579.02,92.26 584.2,75.48" fill="none" stroke="#000" stroke-width="1" stroke-linejoin="round"/>
<path d="M81.55,90.69L84.75,96.59L78.35,96.59Z" fill="#000"/>
<path d="M86.73,88.62L89.93,94.52L83.53,94.52Z" fill="#000"/>
<path d="M91.91,94.45L95.11,100.35L88.71,100.35Z" fill="#000"/>
<path d="M97.1,77.37L100.3,83.27L93.9,83.27Z" fill="#000"/>
<path d="M102.28,93.06L105.48,98.96L99.08,98.96Z" fill="#000"/>
<path d="M107.46,110.24L110.66,116.14L104.26,116.14Z" fill="#000"/>
<path d="M112.64,105.9L115.84,111.8L109.44,111.8Z" fill="#000"/>
<path d="M117.82,121.79L121.02,127.69L114.62,127.69Z" fill="#000"/>
<path d="M123.01,113.89L126.21,119.79L119.81,119.79Z" fill="#000"/>
<path d="M128.19,99.68L131.39,105.58L124.99,105.58Z" fill="#000"/>
<path d="M133.37,113.5L136.57,119.4L130.17,119.4Z" fill="#000"/>
<path d="M138.55,95.83L141.75,101.73L135.35,101.73Z" fill="#000"/>
<path d="M143.73,68.58L146.93,74.48L140.53,74.48Z" fill="#000"/>
<path d="M148.92,71.74L152.12,77.64L145.72,77.64Z" fill="#000"/>
<path d="M154.1,60.29L157.3,66.19L150.9,66.19Z" fill="#000"/>
<path d="M159.28,31.86L162.48,37.76L156.08,37.76Z" fill="#000"/>
<path d="M164.46,46.76L167.66,52.66L161.26,52.66Z" fill="#000"/>
<path d="M169.64,98.1L172.84,104L166.44,104Z" fill="#000"/>
<path d="M174.83,114.19L178.03,120.09L171.63,120.09Z" fill="#000"/>
<path d="M180.01,114.58L183.21,120.48L176.81,120.48Z" fill="#000"/>
<path d="M185.19,103.92L188.39,109.82L181.99,109.82Z" fill="#000"/>
<path d="M190.37,105.7L193.57,111.6L187.17,111.6Z" fill="#000"/>
<path d="M195.55,102.94L198.75,108.84L192.35,108.84Z" fill="#000"/>
<path d="M200.74,77.56L203.94,83.46L197.54,83.46Z" fill="#000"/>
<path d="M205.92,98.59L209.12,104.49L202.72,104.49Z" fill="#000"/>
<path d="M211.1,112.61L214.3,118.51L207.9,118.51Z" fill="#000"/>
<path d="M216.28,108.46L219.48,114.36L213.08,114.36Z" fill="#000"/>
<path d="M221.46,105.21L224.66,111.11L218.26,111.11Z" fill="#000"/>
<path d="M226.65,112.12L229.85,118.02L223.45,118.02Z" fill="#000"/>
<path d="M231.83,135.32L235.03,141.22L228.63,141.22Z" fill="#000"/>
<path d="M237.01,146.67L240.21,152.57L233.81,152.57Z" fill="#000"/>
<path d="M242.19,155.55L245.39,161.45L238.99,161.45Z" fill="#000"/>
<path d="M247.37,144.99L250.57,150.89L244.17,150.89Z" fill="#000"/>
<path d="M252.56,135.02L255.76,140.92L249.36,140.92Z" fill="#000"/>
<path d="M257.74,149.83L260.94,155.73L254.54,155.73Z" fill="#000"/>
<path d="M262.92,147.36L266.12,153.26L259.72,153.26Z" fill="#000"/>
<path d="M268.1,152.1L271.3,158L264.9,158Z" fill="#000"/>
<path d="M273.28,141.63L276.48,147.53L270.08,147.53Z" fill="#000"/>
<path d="M278.47,151.6L281.67,157.5L275.27,157.5Z" fill="#000"/>
<path d="M283.65,160.49L286.85,166.39L280.45,166.39Z" fill="#000"/>
<path d="M288.83,170.06L292.03,175.96L285.63,175.96Z" fill="#000"/>
<path d="M294.01,161.38L297.21,167.28L290.81,167.28Z" fill="#000"/>
<path d="M299.19,158.12L302.39,164.02L295.99,164.02Z" fill="#000"/>
<path d="M304.38,162.86L307.58,168.76L301.18,168.76Z" fill="#000"/>
<path d="M309.56,167.1L312.76,173L306.36,173Z" fill="#000"/>
<path d="M314.74,167.6L317.94,173.5L311.54,173.5Z" fill="#000"/>
<path d="M319.92,162.36L323.12,168.26L316.72,168.26Z" fill="#000"/>
<path d="M325.1,169.08L328.3,174.98L321.9,174.98Z" fill="#000"/>
<path d="M330.29,161.97L333.49,167.87L327.09,167.87Z" fill="#000"/>
<path d="M335.47,169.87L338.67,175.77L332.27,175.77Z" fill="#000"/>
<path d="M340.65,170.06L343.85,175.96L337.45,175.96Z" fill="#000"/>
<path d="M345.83,164.44L349.03,170.34L342.63,170.34Z" fill="#000"/>
<path d="M351.01,160L354.21,165.9L347.81,165.9Z" fill="#000"/>
<path d="M356.2,167.6L359.4,173.5L353,173.5Z" fill="#000"/>
<path d="M361.38,161.97L364.58,167.87L358.18,167.87Z" fill="#000"/>
<path d="M366.56,157.43L369.76,163.33L363.36,163.33Z" fill="#000"/>
<path d="M371.74,166.12L374.94,172.02L368.54,172.02Z" fill="#000"/>
<path d="M376.92,179.44L380.12,185.34L373.72,185.34Z" fill="#000"/>
<path d="M382.11,175L385.31,180.9L378.91,180.9Z" fill="#000"/>
<path d="M387.29,172.53L390.49,178.43L384.09,178.43Z" fill="#000"/>
<path d="M392.47,177.37L395.67,183.27L389.27,183.27Z" fill="#000"/>
<path d="M397.65,177.27L400.85,183.17L394.45,183.17Z" fill="#000"/>
<path d="M402.83,180.13L406.03,186.03L399.63,186.03Z" fill="#000"/>
<path d="M408.02,180.13L411.22,186.03L404.82,186.03Z" fill="#000"/>
<path d="M413.2,178.55L416.4,184.45L410,184.45Z" fill="#000"/>
<path d="M418.38,179.64L421.58,185.54L415.18,185.54Z" fill="#000"/>
<path d="M423.56,170.06L426.76,175.96L420.36,175.96Z" fill="#000"/>
<path d="M428.74,168.88L431.94,174.78L425.54,174.78Z" fill="#000"/>
<path d="M433.93,169.18L437.13,175.08L430.73,175.08Z" fill="#000"/>
<path d="M439.11,161.48L442.31,167.38L435.91,167.38Z" fill="#000"/>
<path d="M444.29,153.18L447.49,159.08L441.09,159.08Z" fill="#000"/>
<path d="M449.47,149.23L452.67,155.13L446.27,155.13Z" fill="#000"/>
<path d="M454.65,142.82L457.85,148.72L451.45,148.72Z" fill="#000"/>
<path d="M459.84,110.93L463.04,116.83L456.64,116.83Z" fill="#000"/>
<path d="M465.02,142.82L468.22,148.72L461.82,148.72Z" fill="#000"/>
<path d="M470.2,115.18L473.4,121.08L467,121.08Z" fill="#000"/>
<path d="M475.38,125.05L478.58,130.95L472.18,130.95Z" fill="#000"/>
<path d="M480.56,126.43L483.76,132.33L477.36,132.33Z" fill="#000"/>
<path d="M485.75,135.81L488.95,141.71L482.55,141.71Z" fill="#000"/>
<path d="M490.93,122.88L494.13,128.78L487.73,128.78Z" fill="#000"/>
<path d="M496.11,127.02L499.31,132.92L492.91,132.92Z" fill="#000"/>
<path d="M501.29,127.42L504.49,133.32L498.09,133.32Z" fill="#000"/>
<path d="M506.47,117.74L509.67,123.64L503.27,123.64Z" fill="#000"/>
<path d="M511.66,103.43L514.86,109.33L508.46,109.33Z" fill="#000"/>
<path d="M516.84,90.2L520.04,96.1L513.64,96.1Z" fill="#000"/>
<path d="M522.02,80.03L525.22,85.93L518.82,85.93Z" fill="#000"/>
<path d="M527.2,70.16L530.4,76.06L524,76.06Z" fill="#000"/>
<path d="M532.38,55.45L535.58,61.35L529.18,61.35Z" fill="#000"/>
<path d="M537.57,87.73L540.77,93.63L534.37,93.63Z" fill="#000"/>
<path d="M542.75,100.96L545.95,106.86L539.55,106.86Z" fill="#000"/>
<path d="M547.93,94.94L551.13,100.84L544.73,100.84Z" fill="#000"/>
<path d="M553.11,73.02L556.31,78.92L549.91,78.92Z" fill="#000"/>
<path d="M558.29,51.7L561.49,57.6L555.09,57.6Z" fill="#000"/>
<path d="M563.48,42.62L566.68,48.52L560.28,48.52Z" fill="#000"/>
<path d="M568.66,36.2L571.86,42.1L565.46,42.1Z" fill="#000"/>
<path d="M573.84,60.58L577.04,66.48L570.64,66.48Z" fill="#000"/>
<path d="M579.02,89.31L582.22,95.21L575.82,95.21Z" fill="#000"/>
<path d="M584.2,72.53L587.4,78.43L581,78.43Z" fill="#000"/>
<rect x="177.9" y="209.5" width="324.2" height="50.7" fill="#fff" stroke="#6a6a6a" stroke-width="1.3"/>
<line x1="181.4" y1="218.6" x2="199.6" y2="218.6" stroke="#000" stroke-width="1"/>
<path d="M190.2,215.65L193.4,221.55L187,221.55Z" fill="#000"/>
<text x="205.5" y="222.6" font-size="11.75" fill="#000">Top 1% (incomes above &#36;352,000 in 2010)</text>
<line x1="181.4" y1="235.2" x2="199.6" y2="235.2" stroke="#000" stroke-width="1"/>
<path d="M190.2,232.7L192.85,237.7L187.55,237.7Z" fill="#fff" stroke="#000" stroke-width="0.9"/>
<text x="205.5" y="239.2" font-size="11.75" fill="#000">Top 5-1% (incomes between &#36;150,000 and &#36;352,000)</text>
<line x1="181.4" y1="252.2" x2="199.6" y2="252.2" stroke="#000" stroke-width="1"/>
<path d="M190.2,249.75L192.65,252.2L190.2,254.65L187.75,252.2Z" fill="#fff" stroke="#000" stroke-width="0.9"/>
<text x="205.5" y="256.2" font-size="11.75" fill="#000">Top 10-5% (incomes between &#36;108,000 and &#36;150,000)</text>
</svg></body></html>
